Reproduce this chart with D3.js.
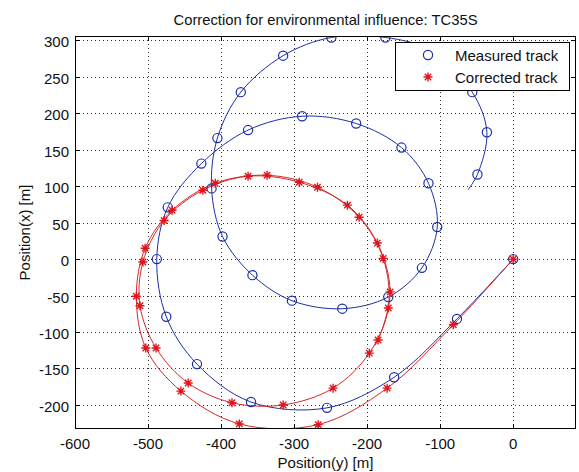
<!DOCTYPE html>
<html><head><meta charset="utf-8">
<script src="https://cdn.jsdelivr.net/npm/d3@7"></script>
<style>
html,body{margin:0;padding:0;background:#fff;}
text{font-family:"Liberation Sans",Arial,sans-serif;}
</style></head>
<body>
<svg id="chart" width="579" height="472"></svg>
<script>
// ---- data (horizontal = Position(y), vertical = Position(x)) ----
const titleText = "Correction for environmental influence: TC35S";
const xLabelText = "Position(y) [m]";
const yLabelText = "Position(x) [m]";
const seriesNames = ["Measured track", "Corrected track"];
const xTicks = [-600, -500, -400, -300, -200, -100, 0];
const yTicks = [-200, -150, -100, -50, 0, 50, 100, 150, 200, 250, 300];
const xDomain = [-600, 86];
const yDomain = [-233, 306];

// measured track (markers)
const measuredY = [0, -77, -163, -255, -359, -433, -475, -488, -473, -427, -363, -289, -215, -153, -116, -104, -125, -171, -234, -303, -357, -398, -413, -405, -373, -315, -249, -175, -110, -56, -36, -49, -62];
const measuredX = [0, -82, -162, -204, -196, -144, -79, 0, 71, 131, 177, 196, 186, 153, 104, 44, -12, -52, -68, -57, -22, 31, 97, 166, 229, 279, 304, 304, 285, 229, 174, 116, 95];
// last point is the end of the line (no marker)
const measuredMarkerCount = 32;

// corrected track (markers)
const correctedY = [0, -82, -172.6, -267, -375, -455, -503, -516, -504, -467, -408, -337, -268, -211, -178, -171, -197, -246.6, -315, -385, -445, -489, -511, -507, -478, -425, -363, -293, -227, -186, -168.5, -185, -190];
const correctedX = [0, -90, -177, -227, -226, -181, -122, -51, 15, 67, 104, 115, 98.6, 57.5, 1, -67, -129, -177, -200, -197, -170, -122, -64, -4, 53, 94.5, 113.7, 105.5, 74, 22, -45, -111, -119];
const correctedMarkerCount = 32;

// ---- drawing ----
const svg = d3.select("#chart");
const W = 579, H = 472;
const plot = {left: 75, right: 576, top: 36, bottom: 429};
const xS = d3.scaleLinear().domain(xDomain).range([plot.left, plot.right]);
const yS = d3.scaleLinear().domain(yDomain).range([plot.bottom, plot.top]);

const blue = "#1c2fa8", red = "#e0141c", redLine = "#d42828";

svg.append("rect").attr("width", W).attr("height", H).attr("fill", "#fff");
svg.append("rect").attr("x", plot.left).attr("y", plot.top)
  .attr("width", plot.right - plot.left).attr("height", plot.bottom - plot.top).attr("fill", "#fff");

// grid
const grid = svg.append("g").attr("stroke", "#333").attr("stroke-width", 1).attr("stroke-dasharray", "1,3");
grid.selectAll("line.gx").data(xTicks).join("line")
  .attr("x1", d => Math.round(xS(d)) + 0.5).attr("x2", d => Math.round(xS(d)) + 0.5)
  .attr("y1", plot.top).attr("y2", plot.bottom);
grid.selectAll("line.gy").data(yTicks).join("line")
  .attr("y1", d => Math.round(yS(d)) + 0.5).attr("y2", d => Math.round(yS(d)) + 0.5)
  .attr("x1", plot.left).attr("x2", plot.right);

// clip
svg.append("clipPath").attr("id", "clip").append("rect")
  .attr("x", plot.left).attr("y", plot.top)
  .attr("width", plot.right - plot.left).attr("height", plot.bottom - plot.top);

const g = svg.append("g").attr("clip-path", "url(#clip)");
const line = d3.line().x(d => xS(d[0])).y(d => yS(d[1])).curve(d3.curveCatmullRom.alpha(0.5));

const measured = measuredY.map((v, i) => [v, measuredX[i]]);
const corrected = correctedY.map((v, i) => [v, correctedX[i]]);

g.append("path").datum(measured).attr("d", line).attr("fill", "none").attr("stroke", blue).attr("stroke-width", 1);
g.append("path").datum(corrected).attr("d", line).attr("fill", "none").attr("stroke", redLine).attr("stroke-width", 1);

const starPath = "M-4.5,0H4.5M0,-4.5V4.5M-3.2,-3.2L3.2,3.2M-3.2,3.2L3.2,-3.2";

g.selectAll("circle.m").data(measured.slice(0, measuredMarkerCount)).join("circle")
  .attr("cx", d => xS(d[0])).attr("cy", d => yS(d[1])).attr("r", 4.6)
  .attr("fill", "none").attr("stroke", blue).attr("stroke-width", 1.2);
g.selectAll("path.s").data(corrected.slice(0, correctedMarkerCount)).join("path")
  .attr("transform", d => `translate(${xS(d[0])},${yS(d[1])})`)
  .attr("d", starPath).attr("stroke", red).attr("stroke-width", 1.4).attr("fill", "none");

// axes box + ticks
const axisG = svg.append("g").attr("stroke", "#000").attr("stroke-width", 1);
axisG.append("rect").attr("x", plot.left + 0.5).attr("y", plot.top + 0.5)
  .attr("width", plot.right - plot.left - 1).attr("height", plot.bottom - plot.top - 1).attr("fill", "none");
const tl = 5;
xTicks.forEach(t => {
  const x = Math.round(xS(t)) + 0.5;
  axisG.append("line").attr("x1", x).attr("x2", x).attr("y1", plot.bottom).attr("y2", plot.bottom - tl);
  axisG.append("line").attr("x1", x).attr("x2", x).attr("y1", plot.top).attr("y2", plot.top + tl);
});
yTicks.forEach(t => {
  const y = Math.round(yS(t)) + 0.5;
  axisG.append("line").attr("y1", y).attr("y2", y).attr("x1", plot.left).attr("x2", plot.left + tl);
  axisG.append("line").attr("y1", y).attr("y2", y).attr("x1", plot.right).attr("x2", plot.right - tl);
});

// tick labels
svg.append("g").selectAll("text").data(xTicks).join("text")
  .attr("x", d => xS(d)).attr("y", 449).attr("text-anchor", "middle")
  .attr("font-size", 15).attr("fill", "#111").text(d => d);
svg.append("g").selectAll("text").data(yTicks).join("text")
  .attr("x", 69).attr("y", d => yS(d) + 7).attr("text-anchor", "end")
  .attr("font-size", 15).attr("fill", "#111").text(d => d);

// title & labels
svg.append("text").attr("x", (plot.left + plot.right) / 2).attr("y", 25)
  .attr("text-anchor", "middle").attr("font-size", 14.8).attr("fill", "#111").text(titleText);
svg.append("text").attr("x", (plot.left + plot.right) / 2).attr("y", 468)
  .attr("text-anchor", "middle").attr("font-size", 15).attr("fill", "#111").text(xLabelText);
svg.append("text").attr("transform", `translate(30,${(plot.top + plot.bottom) / 2}) rotate(-90)`)
  .attr("text-anchor", "middle").attr("font-size", 15).attr("fill", "#111").text(yLabelText);

// legend
const lg = svg.append("g");
lg.append("rect").attr("x", 395.5).attr("y", 42.5).attr("width", 174).attr("height", 48)
  .attr("fill", "#fff").attr("stroke", "#000").attr("stroke-width", 1);
lg.append("circle").attr("cx", 428).attr("cy", 55).attr("r", 4.6)
  .attr("fill", "none").attr("stroke", blue).attr("stroke-width", 1.2);
lg.append("path").attr("transform", "translate(428,77)").attr("d", starPath)
  .attr("stroke", red).attr("stroke-width", 1.4).attr("fill", "none");
lg.append("text").attr("x", 455).attr("y", 61).attr("font-size", 15).attr("fill", "#111").text(seriesNames[0]);
lg.append("text").attr("x", 455).attr("y", 83).attr("font-size", 15).attr("fill", "#111").text(seriesNames[1]);
</script>
</body></html>
